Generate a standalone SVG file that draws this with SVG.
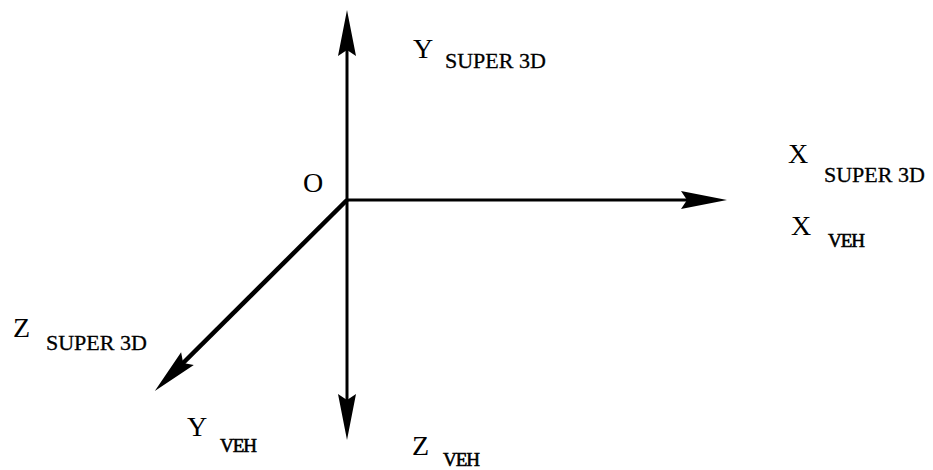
<svg xmlns="http://www.w3.org/2000/svg" width="933" height="470" viewBox="0 0 933 470">
<style>
.ax{stroke:#000;stroke-width:3;fill:none;stroke-linecap:butt}
.diag{stroke-width:4.5}
text{font-family:'Liberation Serif','Times New Roman','DejaVu Serif',serif;fill:#000}
.big{font-size:28px}
.sub{font-size:22px;stroke:#000;stroke-width:0.3px}
.veh{font-size:19px;stroke:#000;stroke-width:0.6px;letter-spacing:-1px}
</style>
<defs>
<marker id="ah" markerUnits="userSpaceOnUse" orient="auto" refX="0" refY="0" markerWidth="60" markerHeight="30" viewBox="-30 -15 60 30" overflow="visible">
<path d="M20,0 L-26,-9 L-20,0 L-26,9 Z" fill="#000"/>
</marker>
</defs>
<g id="connectors">
<path class="ax" d="M347,200 L347,30" marker-end="url(#ah)"/>
<path class="ax" d="M347,200 L347,420" marker-end="url(#ah)"/>
<path class="ax" d="M347,200 L707,200" marker-end="url(#ah)"/>
<path class="ax diag" d="M347,200 L169,377" marker-end="url(#ah)"/>
</g>
<g id="origin"><text class="big" x="303" y="192">O</text></g>
<g id="y-super3d"><text class="big" x="413" y="58">Y</text><text class="sub" x="445" y="68">SUPER 3D</text></g>
<g id="x-super3d"><text class="big" x="788" y="163">X</text><text class="sub" x="824" y="182">SUPER 3D</text></g>
<g id="x-veh"><text class="big" x="791" y="235">X</text><text class="veh" x="828" y="247">VEH</text></g>
<g id="z-super3d"><text class="big" x="13" y="337">Z</text><text class="sub" x="46" y="350">SUPER 3D</text></g>
<g id="y-veh"><text class="big" x="187" y="436">Y</text><text class="veh" x="220" y="452">VEH</text></g>
<g id="z-veh"><text class="big" x="412" y="455">Z</text><text class="veh" x="443" y="466">VEH</text></g>
</svg>
